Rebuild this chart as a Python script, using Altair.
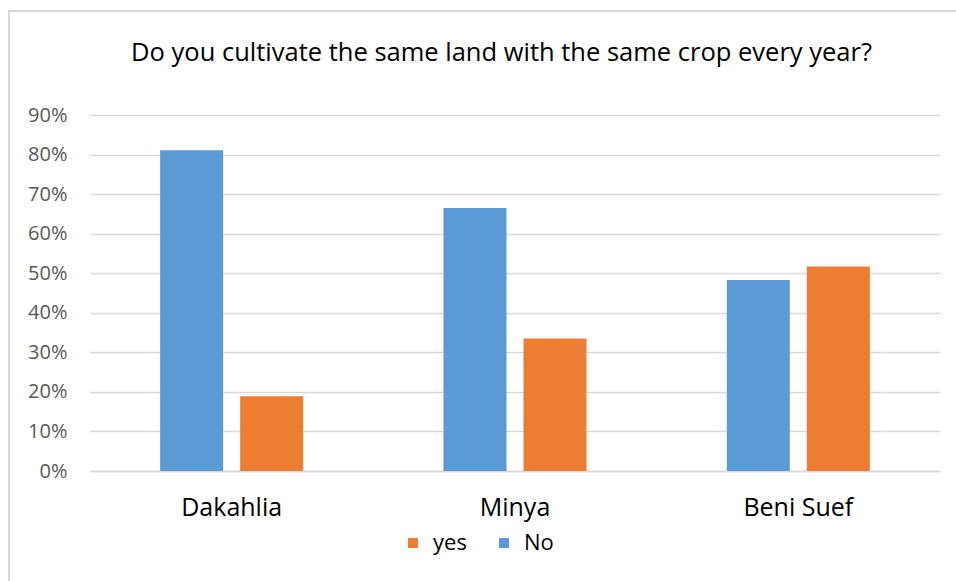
import altair as alt
import pandas as pd

# Share of respondents per governorate (fractions of 1)
regions = ["Dakahlia", "Minya", "Beni Suef"]
no_share = [0.811, 0.665, 0.483]
yes_share = [0.189, 0.335, 0.517]

answers = ["yes", "No"]
answer_colors = ["#ED7D31", "#5B9BD5"]

chart_title = "Do you cultivate the same land with the same crop every year?"

rows = []
for r, n, y in zip(regions, no_share, yes_share):
    rows.append({"region": r, "answer": "No", "share": n})
    rows.append({"region": r, "answer": "yes", "share": y})
df = pd.DataFrame(rows)

FONT = "Open Sans"
GRID = "#D9D9D9"

bars = alt.Chart(df).mark_bar().encode(
    x=alt.X(
        "region:N",
        sort=regions,
        scale=alt.Scale(paddingInner=0.495, paddingOuter=0.2475),
        axis=alt.Axis(
            title=None, labelAngle=0, ticks=False, domain=True,
            domainColor=GRID, domainWidth=1.5,
            labelFontSize=25, labelColor="#000000", labelFont=FONT,
            labelPadding=24,
        ),
    ),
    xOffset=alt.XOffset(
        "answer:N", sort=["No", "yes"],
        scale=alt.Scale(paddingInner=0.2125, paddingOuter=0),
    ),
    y=alt.Y(
        "share:Q",
        scale=alt.Scale(domain=[0, 0.9], nice=False),
        axis=alt.Axis(
            title=None, format=".0%", values=[i / 10 for i in range(10)],
            ticks=False, domain=False, grid=True,
            gridColor=GRID, gridWidth=1.5,
            labelFontSize=20, labelColor="#595959", labelFont=FONT,
            labelPadding=23,
        ),
    ),
    color=alt.Color(
        "answer:N",
        scale=alt.Scale(domain=answers, range=answer_colors),
        legend=alt.Legend(
            title=None, orient="none", direction="horizontal",
            legendX=312, legendY=417,
            symbolType="square", symbolSize=100, symbolStrokeWidth=0,
            labelFontSize=22, labelColor="#000000", labelFont=FONT,
            columnPadding=26, labelOffset=9,
        ),
    ),
)

# Chart heading, centred above the plot
heading = alt.Chart(pd.DataFrame({"t": [chart_title]})).mark_text(
    font=FONT, fontSize=25.5, color="#000000", align="center", baseline="alphabetic"
).encode(text="t:N", x=alt.value(411.5), y=alt.value(-54))

# Light frame drawn around the chart area
frame_top = alt.Chart(df).mark_rule(color=GRID, strokeWidth=2).encode(
    x=alt.value(-82), x2=alt.value(880), y=alt.value(-104)
)
frame_left = alt.Chart(df).mark_rule(color=GRID, strokeWidth=2).encode(
    x=alt.value(-81), y=alt.value(-105), y2=alt.value(480)
)

chart = alt.layer(frame_top, frame_left, heading, bars).properties(
    width=850,
    height=356,
    autosize=alt.AutoSizeParams(type="none"),
    padding={"left": 90, "top": 115, "right": 16, "bottom": 110},
).configure(
    background="white",
    view=alt.ViewConfig(stroke="transparent", strokeWidth=0),
)

chart.save("out.html", embed_options={"renderer": "svg", "actions": False})
